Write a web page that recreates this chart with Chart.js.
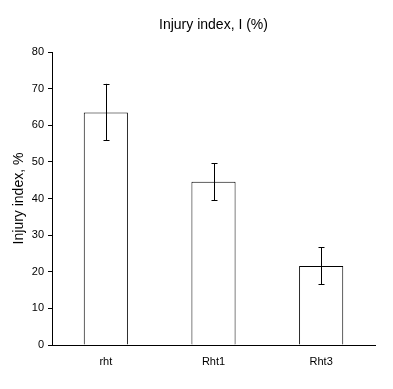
<!DOCTYPE html>
<html>
<head>
<meta charset="utf-8">
<script src="https://cdn.jsdelivr.net/npm/chart.js@4/dist/chart.umd.min.js"></script>
<style>
  html, body { margin: 0; padding: 0; background: #fff; }
  #wrap { width: 393px; height: 389px; }
</style>
</head>
<body>
<div id="wrap"><canvas id="chart" width="393" height="389"></canvas></div>
<script>
const categories = ['rht', 'Rht1', 'Rht3'];
const injury = [63.5, 44.6, 21.6];
const errUp = [7.8, 5.0, 5.1];
const errDown = [7.6, 5.1, 5.0];
const yTicks = [0, 10, 20, 30, 40, 50, 60, 70, 80];
const chartTitle = 'Injury index, I (%)';

const FONT = "'Liberation Sans', Arial, sans-serif";

// title centred over the plot area, not the whole canvas
const plotTitle = {
  id: 'plotTitle',
  afterDraw(chart) {
    const { ctx, chartArea } = chart;
    ctx.save();
    ctx.fillStyle = '#000';
    ctx.font = '14px ' + FONT;
    ctx.textAlign = 'center';
    ctx.textBaseline = 'middle';
    ctx.fillText(chartTitle, (chartArea.left + chartArea.right) / 2, 25);
    ctx.restore();
  }
};

// draw the error bars from the data through the scales
const errorBars = {
  id: 'errorBars',
  afterDatasetsDraw(chart) {
    const { ctx, scales: { x, y } } = chart;
    ctx.save();
    ctx.strokeStyle = '#000';
    ctx.lineWidth = 1;
    injury.forEach((v, i) => {
      const px = Math.round(x.getPixelForValue(i)) + 0.5;
      const top = y.getPixelForValue(v + errUp[i]);
      const bot = y.getPixelForValue(v - errDown[i]);
      ctx.beginPath();
      ctx.moveTo(px, top); ctx.lineTo(px, bot);
      ctx.moveTo(px - 3, Math.round(top) + 0.5); ctx.lineTo(px + 3, Math.round(top) + 0.5);
      ctx.moveTo(px - 3, Math.round(bot) + 0.5); ctx.lineTo(px + 3, Math.round(bot) + 0.5);
      ctx.stroke();
    });
    ctx.restore();
  }
};

new Chart(document.getElementById('chart'), {
  type: 'bar',
  data: {
    labels: categories,
    datasets: [{
      data: injury,
      backgroundColor: '#fff',
      borderColor: '#000',
      borderWidth: 1,
      barPercentage: 0.41,
      categoryPercentage: 1
    }]
  },
  options: {
    responsive: false,
    animation: false,
    layout: { padding: { top: 52, right: 18, left: 0, bottom: 0 } },
    plugins: {
      legend: { display: false },
      tooltip: { enabled: false },
      title: { display: false }
    },
    scales: {
      x: {
        grid: { display: false, drawTicks: false },
        border: { display: true, color: '#000', width: 1 },
        ticks: { color: '#000', padding: 10, font: { family: FONT, size: 11 } },
        afterFit: s => { s.height = 44; }
      },
      y: {
        min: 0,
        max: 80,
        afterBuildTicks: s => { s.ticks = yTicks.map(v => ({ value: v })); },
        grid: { display: true, drawOnChartArea: false, drawTicks: true, tickLength: 4, color: '#000' },
        border: { display: true, color: '#000', width: 1 },
        ticks: { color: '#000', padding: 4, font: { family: FONT, size: 11 } },
        title: {
          display: true,
          text: 'Injury index, %',
          color: '#000',
          font: { family: FONT, size: 14 },
          padding: { top: 11, bottom: 0 }
        },
        afterFit: s => { s.width = 52; }
      }
    }
  },
  plugins: [errorBars, plotTitle]
});
</script>
</body>
</html>
